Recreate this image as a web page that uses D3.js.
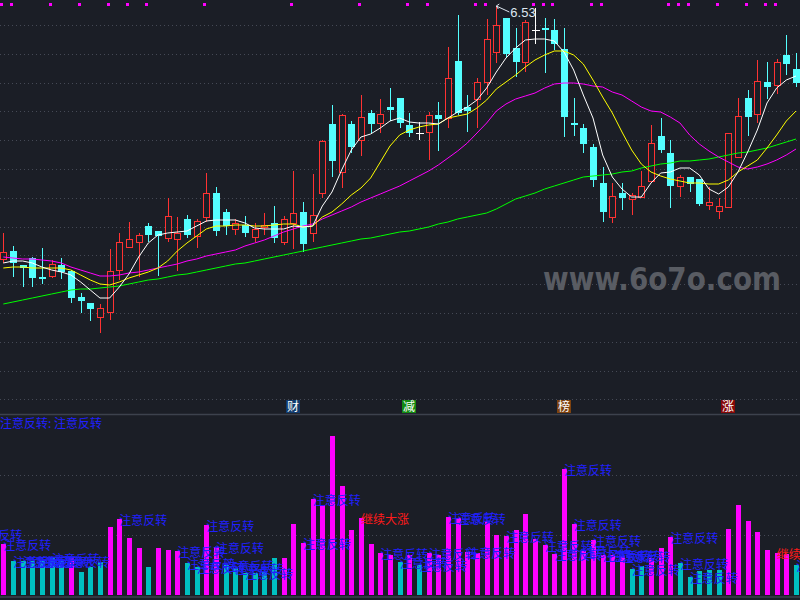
<!DOCTYPE html>
<html>
<head>
<meta charset="utf-8">
<script src="https://cdn.jsdelivr.net/npm/d3@7"></script>
<style>
  html, body { margin: 0; padding: 0; background: #1b1e26; }
  #chart { width: 800px; height: 600px; }
</style>
</head>
<body>
<div id="chart"></div>
<script>
// K线数据 (开 高 低 收)
var opens = [4.00,4.08,3.94,4.01,3.82,3.83,3.94,3.88,3.62,3.56,
  3.42,3.47,3.89,4.12,4.17,4.33,4.28,4.21,4.20,4.40,
  4.23,4.42,4.66,4.47,4.30,4.34,4.22,4.32,4.36,4.17,
  4.36,4.47,4.26,4.66,5.35,4.87,5.35,5.19,5.46,5.36,
  5.52,5.61,5.34,5.26,5.27,5.44,5.41,5.98,5.52,5.60,
  5.77,6.07,6.41,6.11,5.97,6.29,6.31,6.29,6.10,5.36,
  5.31,5.12,4.76,4.42,4.66,4.60,4.62,4.78,5.23,5.06,
  4.73,4.82,4.80,4.54,4.48,4.52,5.02,5.61,5.45,5.77,
  5.74,6.04,5.90];
var highs = [4.26,4.13,3.94,4.02,4.11,3.99,4.01,3.89,3.66,3.56,
  3.55,4.10,4.26,4.37,4.26,4.36,4.28,4.61,4.42,4.44,
  4.40,4.86,4.72,4.50,4.40,4.43,4.36,4.46,4.53,4.43,
  4.88,4.57,4.85,5.19,5.54,5.45,5.38,5.64,5.49,5.60,
  5.71,5.61,5.46,5.37,5.47,5.57,6.12,6.44,5.64,5.81,
  6.40,6.53,6.41,6.31,6.39,6.51,6.41,6.40,6.31,5.61,
  5.35,5.15,4.92,4.76,4.76,4.66,4.88,5.34,5.41,5.19,
  4.84,4.82,4.80,4.72,4.61,5.26,5.61,5.69,5.99,5.97,
  6.00,6.24,6.06];
var lows = [3.96,3.82,3.72,3.72,3.75,3.81,3.80,3.56,3.46,3.38,
  3.26,3.39,3.79,4.11,3.82,4.17,3.83,4.17,3.88,4.21,
  4.11,4.37,4.23,4.24,4.24,4.22,4.17,4.24,4.16,4.14,
  4.10,4.07,4.17,4.61,4.82,4.71,5.06,5.03,5.26,5.26,
  5.38,5.31,5.22,5.19,4.99,5.08,5.31,5.44,5.27,5.31,
  5.64,5.96,6.01,5.82,5.87,6.15,5.86,6.09,5.22,5.23,
  5.06,4.72,4.37,4.36,4.49,4.44,4.62,4.78,5.06,4.51,
  4.62,4.67,4.53,4.49,4.40,4.52,5.02,5.23,5.36,5.60,
  5.65,5.84,5.72];
var closes = [4.07,3.96,3.91,3.81,3.81,3.95,3.87,3.61,3.58,3.50,
  3.51,3.88,4.17,4.20,4.24,4.24,4.23,4.43,4.26,4.24,
  4.38,4.66,4.28,4.33,4.36,4.26,4.30,4.34,4.21,4.40,
  4.46,4.15,4.44,5.18,4.98,5.44,5.12,5.42,5.35,5.45,
  5.49,5.36,5.26,5.26,5.44,5.40,5.81,5.46,5.48,5.77,
  6.20,6.34,6.05,5.97,6.37,6.29,6.29,6.15,5.42,5.35,
  5.15,4.79,4.47,4.63,4.61,4.64,4.73,5.16,5.09,4.73,
  4.82,4.75,4.55,4.57,4.53,5.26,5.43,5.42,5.78,5.72,
  5.97,5.95,5.76];

// 均线
var ma5 = [3.96,3.98,3.98,3.96,3.92,3.89,3.87,3.84,3.77,3.69,
  3.61,3.61,3.72,3.85,4.02,4.16,4.24,4.26,4.27,4.28,
  4.33,4.38,4.39,4.39,4.39,4.36,4.31,4.30,4.30,4.30,
  4.33,4.32,4.33,4.53,4.67,4.89,5.09,5.22,5.25,5.31,
  5.38,5.41,5.37,5.36,5.36,5.35,5.41,5.47,5.52,5.59,
  5.71,5.87,6.01,6.11,6.19,6.20,6.20,6.18,6.07,5.89,
  5.64,5.41,5.04,4.82,4.70,4.62,4.62,4.76,4.86,4.87,
  4.91,4.91,4.84,4.70,4.65,4.72,4.87,5.07,5.29,5.56,
  5.71,5.79,5.83];
var ma10 = [3.91,3.92,3.92,3.91,3.91,3.91,3.91,3.89,3.84,3.79,
  3.75,3.74,3.77,3.81,3.84,3.87,3.91,3.98,4.08,4.16,
  4.23,4.30,4.33,4.33,4.34,4.34,4.33,4.33,4.34,4.35,
  4.35,4.32,4.33,4.42,4.47,4.55,4.64,4.71,4.81,4.97,
  5.13,5.24,5.29,5.32,5.34,5.35,5.41,5.43,5.45,5.51,
  5.59,5.70,5.77,5.84,5.92,5.99,6.04,6.08,6.08,6.04,
  5.95,5.79,5.62,5.46,5.27,5.09,4.95,4.87,4.83,4.80,
  4.78,4.76,4.76,4.75,4.75,4.79,4.87,4.93,4.99,5.11,
  5.24,5.38,5.48];
var ma20 = [4.02,4.01,4.00,4.00,3.99,3.98,3.96,3.92,3.89,3.86,
  3.83,3.83,3.84,3.86,3.87,3.89,3.91,3.93,3.95,3.98,
  4.00,4.03,4.05,4.07,4.09,4.13,4.16,4.19,4.23,4.27,
  4.30,4.33,4.35,4.40,4.44,4.48,4.52,4.57,4.61,4.65,
  4.69,4.73,4.78,4.83,4.88,4.94,5.01,5.08,5.16,5.26,
  5.36,5.48,5.55,5.60,5.63,5.66,5.71,5.75,5.76,5.76,
  5.75,5.73,5.72,5.67,5.64,5.58,5.52,5.48,5.47,5.42,
  5.36,5.24,5.15,5.08,5.02,4.97,4.92,4.90,4.92,4.95,
  4.99,5.04,5.10];
var ma60 = [3.55,3.57,3.59,3.61,3.63,3.65,3.67,3.69,3.70,3.70,
  3.71,3.72,3.73,3.75,3.77,3.79,3.80,3.82,3.84,3.85,
  3.87,3.89,3.91,3.93,3.95,3.96,3.98,4.00,4.02,4.04,
  4.06,4.08,4.10,4.12,4.14,4.16,4.18,4.20,4.21,4.23,
  4.25,4.27,4.28,4.30,4.32,4.35,4.37,4.40,4.42,4.44,
  4.46,4.50,4.55,4.60,4.63,4.66,4.70,4.73,4.76,4.79,
  4.82,4.83,4.84,4.85,4.87,4.88,4.91,4.93,4.95,4.96,
  4.98,4.98,4.99,5.00,5.02,5.04,5.06,5.07,5.09,5.11,
  5.14,5.17,5.20];

// 副图柱子 (1 = 红柱, 0 = 绿柱)
var volumes = [51,34,34,34,34,37,34,38,23,28,
  33,68,76,57,47,28,47,45,44,32,
  28,70,48,30,27,22,22,23,37,37,
  71,52,96,90,159,109,65,77,51,42,
  40,33,40,30,42,40,78,77,43,42,
  74,60,59,65,81,56,50,41,126,71,
  44,55,40,40,39,26,29,37,47,58,
  32,18,24,25,25,66,90,74,63,45,
  42,41,30];
var volUp = [1,0,0,0,0,0,0,1,0,0,
  0,1,1,1,1,0,1,1,1,0,
  0,1,1,0,0,0,0,0,0,1,
  1,1,1,1,1,1,1,1,1,1,
  1,0,1,0,1,1,1,1,1,1,
  1,1,1,1,1,1,1,1,1,1,
  1,1,1,1,1,0,0,1,1,1,
  0,0,0,0,0,1,1,1,1,1,
  1,1,0];

// 副图文字 [序号, 位置, 文字]
var signals = [[-3,61,"注意反转"],[0,51,"注意反转"],[1,34,"注意反转"],[2,34,"注意反转"],
  [3,34,"注意反转"],[4,34,"注意反转"],[5,37,"注意反转"],[6,34,"注意反转"],
  [12,76,"注意反转"],[18,44,"注意反转"],[19,32,"注意反转"],[20,28,"注意反转"],
  [21,70,"注意反转"],[22,48,"注意反转"],[23,30,"注意反转"],[24,27,"注意反转"],
  [25,22,"注意反转"],[31,52,"注意反转"],[32,96,"注意反转"],[37,77,"继续大涨"],
  [39,42,"注意反转"],[41,33,"注意反转"],[43,30,"注意反转"],[44,42,"注意反转"],
  [46,78,"注意反转"],[47,77,"注意反转"],[48,43,"注意反转"],[52,59,"注意反转"],
  [56,50,"注意反转"],[57,41,"注意反转"],[58,126,"注意反转"],[59,71,"注意反转"],
  [60,44,"注意反转"],[61,55,"注意反转"],[62,40,"注意反转"],[63,40,"注意反转"],
  [64,39,"注意反转"],[65,26,"注意反转"],[69,58,"注意反转"],[70,32,"注意反转"],
  [71,18,"注意反转"],[80,42,"继续大涨"],[82,30,"注意反转"]];

// 顶部小方块, 底部图标
var topMarks = [0,1,5,8,11,13,15,21,30,37,42,44,49,50,55,56,57,61,62,69,70,71,74,77,79,80];
var iconIdx = [30, 42, 58, 75];
var iconText = ["财", "减", "榜", "涨"];
var iconColor = ["#103a6c", "#138a13", "#7d420f", "#860808"];

var width = 800, height = 600;
var bg = "#1b1e26";
var paneBottom = 414;

var svg = d3.select("#chart")
  .append("svg")
  .attr("width", width)
  .attr("height", height)
  .style("background", bg);

var xScale = d3.scaleLinear().domain([0, 82]).range([3.3, 796]);
var yScale = d3.scaleLinear().domain([2.45, 6.59]).range([paneBottom, 0]);
var vScale = d3.scaleLinear().domain([0, 180]).range([595, 415]);
function px(i) { return Math.round(xScale(i)) + 0.5; }

// 网格虚线
var gridPrices = d3.range(14).map(function(k) { return 6.34 - 0.288 * k; });
svg.append("g").selectAll("line")
  .data(gridPrices)
  .enter().append("line")
  .attr("x1", 0).attr("x2", width)
  .attr("y1", function(d) { return Math.round(yScale(d)) + 0.5; })
  .attr("y2", function(d) { return Math.round(yScale(d)) + 0.5; })
  .attr("stroke", "#454955")
  .attr("stroke-dasharray", "1,3");

svg.append("g").selectAll("line")
  .data([60, 120])
  .enter().append("line")
  .attr("x1", 0).attr("x2", width)
  .attr("y1", function(d) { return Math.round(vScale(d)) + 0.5; })
  .attr("y2", function(d) { return Math.round(vScale(d)) + 0.5; })
  .attr("stroke", "#454955")
  .attr("stroke-dasharray", "1,3");

// 分隔线
svg.append("line").attr("x1", 0).attr("x2", width).attr("y1", paneBottom + 0.5).attr("y2", paneBottom + 0.5)
  .attr("stroke", "#3d424d").attr("stroke-width", 1.5);
svg.append("line").attr("x1", 0).attr("x2", width).attr("y1", 597).attr("y2", 597)
  .attr("stroke", "#3d424d").attr("stroke-width", 1.5);

// 水印
svg.append("text")
  .attr("x", 543).attr("y", 290)
  .attr("textLength", 238).attr("lengthAdjust", "spacingAndGlyphs")
  .style("font-family", "DejaVu Sans")
  .style("font-weight", "bold")
  .style("font-size", "32px")
  .style("fill", "#595c63")
  .text("www.6o7o.com");

// K线
var data = opens.map(function(o, i) {
  return { i: i, o: o, h: highs[i], l: lows[i], c: closes[i] };
});
function kColor(d) { return d.c > d.o ? "#ff3232" : (d.c < d.o ? "#54ffff" : "#ffffff"); }

var kg = svg.append("g").attr("shape-rendering", "crispEdges");
kg.selectAll("line.hi")
  .data(data)
  .enter().append("line")
  .attr("x1", function(d) { return px(d.i); })
  .attr("x2", function(d) { return px(d.i); })
  .attr("y1", function(d) { return yScale(d.h); })
  .attr("y2", function(d) { return yScale(Math.max(d.o, d.c)); })
  .attr("stroke", kColor);
kg.selectAll("line.lo")
  .data(data)
  .enter().append("line")
  .attr("x1", function(d) { return px(d.i); })
  .attr("x2", function(d) { return px(d.i); })
  .attr("y1", function(d) { return yScale(Math.min(d.o, d.c)); })
  .attr("y2", function(d) { return yScale(d.l); })
  .attr("stroke", kColor);

kg.selectAll("rect.up")
  .data(data.filter(function(d) { return d.c > d.o; }))
  .enter().append("rect")
  .attr("x", function(d) { return px(d.i) - 3; })
  .attr("y", function(d) { return Math.round(yScale(d.c)) + 0.5; })
  .attr("width", 6)
  .attr("height", function(d) { return Math.max(1, Math.round(yScale(d.o) - yScale(d.c))); })
  .attr("fill", bg)
  .attr("stroke", "#ff3232");

kg.selectAll("rect.down")
  .data(data.filter(function(d) { return d.c < d.o; }))
  .enter().append("rect")
  .attr("x", function(d) { return px(d.i) - 3.5; })
  .attr("y", function(d) { return yScale(d.o); })
  .attr("width", 7)
  .attr("height", function(d) { return Math.max(1.5, yScale(d.c) - yScale(d.o)); })
  .attr("fill", "#54ffff");

kg.selectAll("line.doji")
  .data(data.filter(function(d) { return d.c === d.o; }))
  .enter().append("line")
  .attr("x1", function(d) { return px(d.i) - 4; })
  .attr("x2", function(d) { return px(d.i) + 4; })
  .attr("y1", function(d) { return yScale(d.o); })
  .attr("y2", function(d) { return yScale(d.o); })
  .attr("stroke", "#ffffff");

// 均线
var maList = [[ma60, "#00ff00"], [ma20, "#ff00ff"], [ma10, "#ffff00"], [ma5, "#ffffff"]];
var line = d3.line()
  .x(function(d, i) { return xScale(i); })
  .y(function(d) { return yScale(d); });
maList.forEach(function(m) {
  svg.append("path")
    .datum(m[0])
    .attr("d", line)
    .attr("fill", "none")
    .attr("stroke", m[1])
    .attr("stroke-width", 1);
});

// 最高价标注
var hiIdx = d3.maxIndex(highs);
var hx = xScale(hiIdx), hy = yScale(highs[hiIdx]);
svg.append("path")
  .attr("d", "M" + (hx + 13) + "," + (hy + 6) + "L" + hx + "," + hy +
    "M" + (hx + 3) + "," + (hy - 2) + "L" + hx + "," + hy + "L" + (hx + 2) + "," + (hy + 3))
  .attr("fill", "none")
  .attr("stroke", "#dde6f0");
svg.append("text")
  .attr("x", hx + 14).attr("y", hy + 11)
  .style("font-family", "Liberation Sans")
  .style("font-size", "13px")
  .style("fill", "#dde6f0")
  .text(highs[hiIdx].toFixed(2));

// 顶部小方块
svg.append("g").selectAll("rect")
  .data(topMarks)
  .enter().append("rect")
  .attr("x", function(d) { return Math.round(xScale(d)) - 3; })
  .attr("y", 3)
  .attr("width", 3).attr("height", 3)
  .attr("fill", "#ff00ff");

// 图标
var ig = svg.append("g").selectAll("g")
  .data(iconIdx)
  .enter().append("g")
  .attr("transform", function(d) { return "translate(" + (Math.round(xScale(d)) - 7) + ",400)"; });
ig.append("rect")
  .attr("width", 14).attr("height", 13)
  .attr("fill", function(d, i) { return iconColor[i]; });
ig.append("text")
  .attr("x", 7).attr("y", 11)
  .attr("text-anchor", "middle")
  .style("font-family", "Noto Sans CJK SC")
  .style("font-size", "12px")
  .style("fill", "#ffffff")
  .text(function(d, i) { return iconText[i]; });

// 副图柱子
svg.append("g").attr("shape-rendering", "crispEdges")
  .selectAll("rect")
  .data(volumes)
  .enter().append("rect")
  .attr("x", function(d, i) { return Math.round(xScale(i)) - 2; })
  .attr("y", function(d) { return vScale(d); })
  .attr("width", 5)
  .attr("height", function(d) { return vScale(0) - vScale(d); })
  .attr("fill", function(d, i) { return volUp[i] ? "#ff00ff" : "#00c0c0"; });

// 副图文字
svg.append("g").selectAll("text")
  .data(signals)
  .enter().append("text")
  .attr("x", function(d) { return xScale(d[0]); })
  .attr("y", function(d) { return vScale(d[1]); })
  .attr("dominant-baseline", "central")
  .style("font-family", "Noto Sans CJK SC")
  .style("font-size", "12px")
  .style("fill", function(d) { return d[2] === "继续大涨" ? "#ff1a1a" : "#2020ff"; })
  .text(function(d) { return d[2]; });

// 副图标题
svg.append("text")
  .attr("x", 0).attr("y", 422)
  .attr("dominant-baseline", "central")
  .style("font-family", "Noto Sans CJK SC")
  .style("font-size", "12px")
  .style("fill", "#2020ff")
  .text("注意反转: 注意反转");
</script>
</body>
</html>
